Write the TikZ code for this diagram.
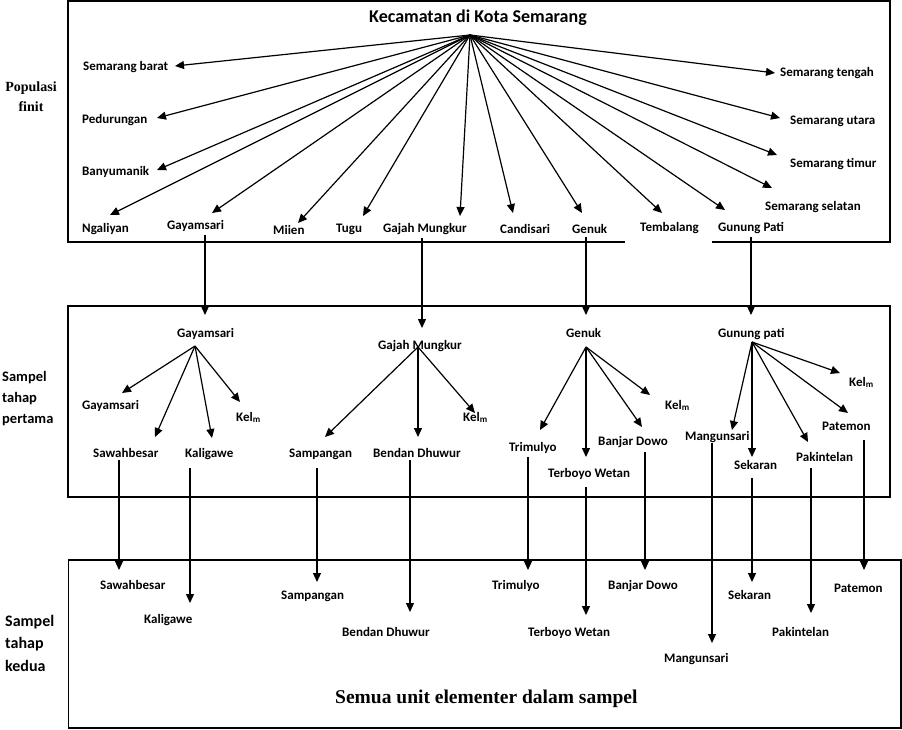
\documentclass[tikz,border=0pt]{standalone}
\usepackage{fontspec}
\setmainfont{Carlito}
\newfontfamily\serifB{Liberation Serif}
\usetikzlibrary{arrows.meta}
\begin{document}
\begin{tikzpicture}[x=1pt,y=-1pt,
  lab/.style={anchor=base west, inner sep=0pt, font=\fontsize{13}{15}\selectfont\bfseries},
  arr/.style={-{Triangle[length=9pt,width=8pt]}, line width=1.2pt},
  boxline/.style={line width=1.3pt}]
\fill[white] (0,0) rectangle (902,729);
\useasboundingbox (0,0) rectangle (902,729);
% boxes
\draw[boxline] (625,242) -- (68,242) -- (68,1) -- (890,1) -- (890,242) -- (712,242);
\draw[boxline] (68,306) rectangle (890,497);
\draw[boxline] (68.5,560) rectangle (901,728);
% side labels
\node[font=\serifB\fontsize{14}{20}\selectfont\bfseries, align=center, inner sep=0pt] (pop) at (31,97) {Populasi\\finit};
\node[font=\fontsize{14.5}{21}\selectfont\bfseries, align=left, anchor=west, inner sep=0pt] (s1) at (2,399) {Sampel\\tahap\\pertama};
\node[font=\fontsize{16}{22.5}\selectfont\bfseries, align=left, anchor=west, inner sep=0pt] (s2) at (5,643) {Sampel\\tahap\\kedua};
% title
\node[font=\fontsize{18}{20}\selectfont\bfseries, inner sep=0pt] (title) at (478,18) {Kecamatan di Kota Semarang};
\coordinate (hub) at (470,35);
% top fan
\foreach \id/\txt/\x/\y/\ax/\ay in {
 sbarat/Semarang barat/83/70/175/66,
 pedur/Pedurungan/82/123/157/118,
 banyu/Banyumanik/82/175/157/170,
 ngali/Ngaliyan/82/232/110/215,
 gayam/Gayamsari/167/229/212/213,
 miien/Miien/273/234/298/223,
 tugu/Tugu/336/232/363/216,
 gajah/Gajah Mungkur/383/232/460/216,
 candi/Candisari/500/233/513/213,
 genuk/Genuk/572/233/582/213,
 temba/Tembalang/640/231/662/213,
 gunung/Gunung Pati/718/231/725/210,
 sselat/Semarang selatan/765/210/772/188,
 stimur/Semarang timur/790/167/777/155,
 sutara/Semarang utara/790/124/780/118,
 stengah/Semarang tengah/780/76/775/73}
{
 \node[lab] (t-\id) at (\x,\y) {\txt};
 \coordinate (ta-\id) at (\ax,\ay);
 \draw[arr] (hub) -- (ta-\id);
}
% first stage heads
\node[lab] (h-gayam) at (177,337) {Gayamsari};
\node[lab] (h-gajah) at (378,349) {Gajah Mungkur};
\node[lab] (h-genuk) at (566,337) {Genuk};
\node[lab] (h-gunung) at (718,337) {Gunung pati};
% vertical arrows box1 -> box2
\foreach \id/\x/\ya/\yb in {gayam/205/235/315, gajah/422/238/328, genuk/586/237/315, gunung/751/237/315}
{
 \coordinate (va-\id) at (\x,\ya);
 \coordinate (vb-\id) at (\x,\yb);
 \draw[arr] (va-\id) -- (vb-\id);
}
% hubs in box 2
\coordinate (hb-gayam) at (195,346);
\coordinate (hb-gajah) at (418,347);
\coordinate (hb-genuk) at (586,347);
\coordinate (hb-gunung) at (752,342);
% children in box 2
\foreach \h/\id/\txt/\x/\y/\ax/\ay in {
 gayam/c1/Gayamsari/82/409/122/393,
 gayam/c2/Sawahbesar/93/457/155/437,
 gayam/c3/Kaligawe/185/457/212/438,
 gayam/c4/Kel\textsubscript{m}/236/421/240/402,
 gajah/c5/Sampangan/289/457/325/437,
 gajah/c6/Bendan Dhuwur/373/457/418/437,
 gajah/c7/Kel\textsubscript{m}/463/421/475/413,
 genuk/c8/Trimulyo/509/451/540/430,
 genuk/c9/Terboyo Wetan/548/477/586/457,
 genuk/c10/Banjar Dowo/598/445/642/427,
 genuk/c11/Kel\textsubscript{m}/665/409/650/395,
 gunung/c12/Mangunsari/685/440/732/430,
 gunung/c13/Sekaran/734/469/752/457,
 gunung/c14/Pakintelan/796/461/808/442,
 gunung/c15/Patemon/822/430/848/413,
 gunung/c16/Kel\textsubscript{m}/849/386/840/373}
{
 \node[lab] (m-\id) at (\x,\y) {\txt};
 \coordinate (ma-\id) at (\ax,\ay);
 \draw[arr] (hb-\h) -- (ma-\id);
}
% second stage: labels and vertical arrows box2 -> box3
\foreach \id/\txt/\x/\y/\vx/\ya/\yb in {
 d1/Sawahbesar/100/589/119/460/570,
 d2/Kaligawe/144/623/190/468/603,
 d3/Sampangan/281/599/317/468/582,
 d4/Bendan Dhuwur/342/636/410/460/612,
 d5/Trimulyo/492/589/528/457/570,
 d6/Terboyo Wetan/528/636/586/487/615,
 d7/Banjar Dowo/608/589/645/452/570,
 d8/Mangunsari/664/662/712/443/643,
 d9/Sekaran/728/599/752/478/582,
 d10/Pakintelan/772/636/811/468/613,
 d11/Patemon/834/592/864/440/570}
{
 \node[lab] (b-\id) at (\x,\y) {\txt};
 \coordinate (ba-\id) at (\vx,\ya);
 \coordinate (bb-\id) at (\vx,\yb);
 \draw[arr] (ba-\id) -- (bb-\id);
}
\node[font=\serifB\fontsize{19.5}{22}\selectfont\bfseries, anchor=base west, inner sep=0pt] (unit) at (335,703) {Semua unit elementer dalam sampel};
\end{tikzpicture}
\end{document}
